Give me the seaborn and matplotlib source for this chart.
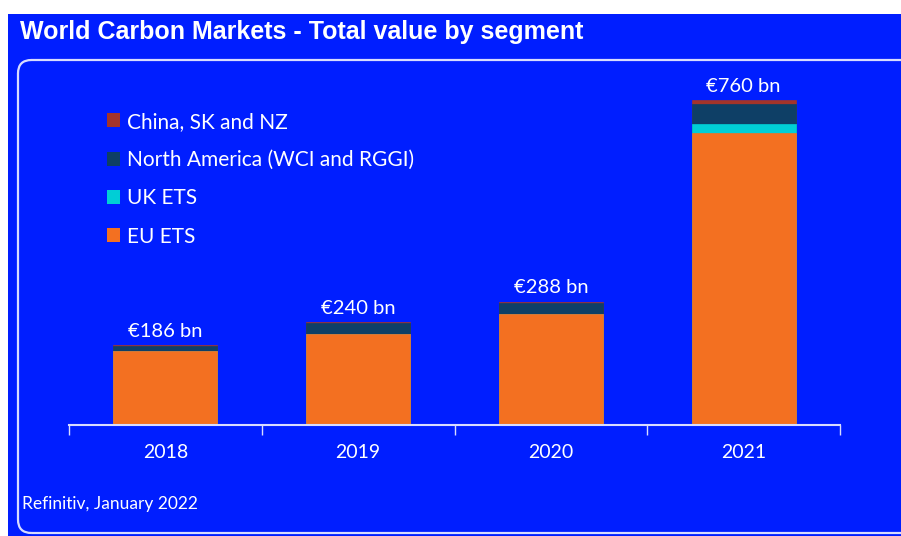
import matplotlib
matplotlib.use("Agg")
import matplotlib.pyplot as plt
from matplotlib.patches import Rectangle, FancyBboxPatch, Patch
import numpy as np
import pandas as pd
import seaborn as sns

years = ["2018", "2019", "2020", "2021"]
eu_ets = [172, 214, 259, 683]
uk_ets = [0, 0, 0, 22]
north_america = [12, 25, 26, 47]
china_sk_nz = [2, 1, 3, 8]
totals = ["€186 bn", "€240 bn", "€288 bn", "€760 bn"]

segments = ["China, SK and NZ", "North America (WCI and RGGI)", "UK ETS", "EU ETS"]
colors = ["#A3342A", "#0E3F66", "#00CED6", "#F37021"]

BLUE = "#001EFF"
FONT = "Lato"

df = pd.DataFrame({"year": years, "EU ETS": eu_ets, "UK ETS": uk_ets,
                   "North America (WCI and RGGI)": north_america,
                   "China, SK and NZ": china_sk_nz})
# cumulative heights, stacked bottom-up
stack_order = ["EU ETS", "UK ETS", "North America (WCI and RGGI)", "China, SK and NZ"]
cum = df[stack_order].cumsum(axis=1)

W, H = 901, 536
fig = plt.figure(figsize=(W / 100, H / 100), dpi=100, facecolor="white")

# blue background and rounded panel
fig.patches.append(Rectangle((8 / W, 0), 1, 1 - 14 / H, transform=fig.transFigure,
                             facecolor=BLUE, edgecolor="none", zorder=-10))
fig.patches.append(FancyBboxPatch((18 / W, 3 / H), 1.0, (H - 60 - 3) / H,
                                  boxstyle="round,pad=0,rounding_size=0.015",
                                  transform=fig.transFigure, facecolor="none",
                                  edgecolor="#D8DCFF", linewidth=1.6, zorder=-9,
                                  mutation_aspect=W / H))

ax = fig.add_axes([69 / W, 111 / H, 771 / W, 342 / H])
ax.set_facecolor("none")

# draw from the tallest cumulative layer down so each lower layer covers the one above
for seg, col in zip(segments, colors):
    sns.barplot(x=df["year"], y=cum[seg], color=col, width=0.54, ax=ax,
                saturation=1, edgecolor=col, linewidth=0.5)

ax.bar_label(ax.containers[0], labels=totals, padding=4, color="white",
             fontsize=14.5, family=FONT)

ax.set_ylim(0, 800)
ax.set_xlim(-0.5, 3.5)
ax.set_xlabel("")
ax.set_ylabel("")
ax.set_yticks([])
for s in ["top", "right", "left"]:
    ax.spines[s].set_visible(False)
ax.spines["bottom"].set_color("#D8DCFF")
ax.spines["bottom"].set_linewidth(1.5)

ax.set_xticks(np.arange(-0.5, 4, 1))
ax.set_xticklabels([])
ax.tick_params(axis="x", which="major", length=7, width=1, color="#D8DCFF")
ax.set_xticks(range(4), minor=True)
ax.set_xticklabels(years, minor=True, color="white", fontsize=14, family=FONT)
ax.tick_params(axis="x", which="minor", length=0, pad=14)

handles = [Patch(facecolor=c, edgecolor="none") for c in colors]
leg = fig.legend(handles, segments, loc="upper left",
                 bbox_to_anchor=(88 / W, 1 - 93 / H), frameon=False,
                 prop={"family": FONT, "size": 15}, labelcolor="white",
                 handlelength=0.65, handleheight=0.65, handletextpad=0.3,
                 labelspacing=0.88)

fig.text(20 / W, 1 - 32 / H, "World Carbon Markets - Total value by segment",
         color="white", fontsize=18, fontweight="bold", family="Liberation Sans",
         va="center", ha="left")
fig.text(22 / W, 1 - 504 / H, "Refinitiv, January 2022", color="white",
         fontsize=12.5, family=FONT, va="center", ha="left")

fig.savefig("out.png", dpi=100, facecolor="white")
